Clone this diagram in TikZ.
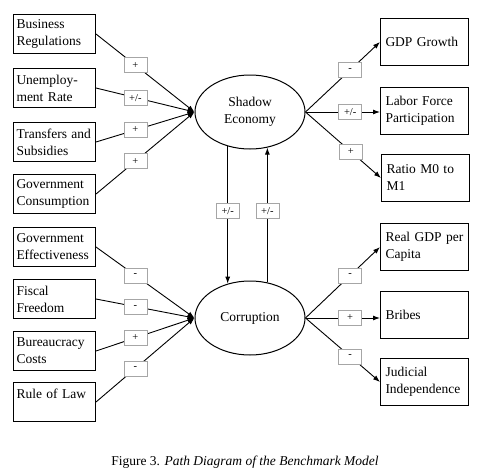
\documentclass[tikz,border=0pt]{standalone}
\usepackage{fontspec}
\setmainfont{Liberation Serif}
\usetikzlibrary{arrows.meta,shapes.geometric}
\begin{document}
\begin{tikzpicture}[x=1pt,y=-1pt,
  every node/.style={font=\fontsize{13.5}{17}\selectfont},
  lbox/.style={draw,line width=1pt,minimum width=82pt,minimum height=39pt,text width=76pt,inner xsep=3pt,align=left,anchor=north west},
  rbox/.style={draw,line width=1pt,minimum width=88pt,minimum height=47pt,text width=78pt,inner xsep=5pt,align=left,anchor=north west},
  lat/.style={draw,ellipse,line width=1pt,minimum width=110pt,minimum height=74pt,inner sep=0pt,align=center},
  sgn/.style={draw=gray!70,fill=white,line width=0.6pt,minimum width=23pt,minimum height=15pt,inner sep=1pt,font=\fontsize{10.5}{12}\selectfont},
  arr/.style={line width=0.9pt,-{Latex[length=7pt,width=5pt]}}
]
\useasboundingbox (0,0) rectangle (480,472);
% left boxes
\node[lbox] (br) at (13,14) {Business\\Regulations};
\node[lbox] (ur) at (13,68) {Unemploy-\\ment Rate};
\node[lbox] (ts) at (13,122) {Transfers and\\Subsidies};
\node[lbox] (gc) at (13,174) {Government\\Consumption};
\node[lbox] (ge) at (13,227) {Government\\Effectiveness};
\node[lbox] (ff) at (13,279) {Fiscal\\Freedom};
\node[lbox] (bc) at (13,331) {Bureaucracy\\Costs};
\node[lbox] (rl) at (13,382) {Rule of Law\\\mbox{}};
% latent
\node[lat] (sh) at (250,112) {Shadow\\Economy};
\node[lat] (co) at (250,318) {Corruption};
% right boxes
\node[rbox] (gdp) at (380,18) {GDP Growth};
\node[rbox] (lf) at (380,87) {Labor Force\\Participation};
\node[rbox] (rm) at (381,154) {Ratio M0 to\\M1};
\node[rbox] (rg) at (380,223) {Real GDP per\\Capita};
\node[rbox] (bb) at (380,291) {Bribes};
\node[rbox] (ji) at (380,358) {Judicial\\Independence};
% inputs to shadow
\draw[arr] (br.east) -- node[sgn,pos=0.4] {+} (sh.west);
\draw[arr] (ur.east) -- node[sgn,pos=0.4] {+/-} (sh.west);
\draw[arr] (ts.east) -- node[sgn,pos=0.4] {+} (sh.west);
\draw[arr] (gc.east) -- node[sgn,pos=0.4] {+} (sh.west);
% inputs to corruption
\draw[arr] (ge.east) -- node[sgn,pos=0.4] {-} (co.west);
\draw[arr] (ff.east) -- node[sgn,pos=0.4] {-} (co.west);
\draw[arr] (bc.east) -- node[sgn,pos=0.4] {+} (co.west);
\draw[arr] (rl.east) -- node[sgn,pos=0.4] {-} (co.west);
% outputs of shadow
\draw[arr] (sh.east) -- node[sgn,pos=0.6] {-} (gdp.west);
\draw[arr] (sh.east) -- node[sgn,pos=0.6] {+/-} (lf.west |- sh.east);
\draw[arr] (sh.east) -- node[sgn,pos=0.6] {+} (rm.west);
% outputs of corruption
\draw[arr] (co.east) -- node[sgn,pos=0.6] {-} (rg.west);
\draw[arr] (co.east) -- node[sgn,pos=0.6] {+} (bb.west |- co.east);
\draw[arr] (co.east) -- node[sgn,pos=0.6] {-} (ji.west);
% reciprocal paths
\draw[arr] (sh.237) -- node[sgn,pos=0.47] {+/-} (co.123);
\draw[arr] (co.64) -- node[sgn,pos=0.53] {+/-} (sh.296);
% caption
\node (cap) at (245,462) {Figure 3. \textit{Path Diagram of the Benchmark Model}};
\end{tikzpicture}
\end{document}
